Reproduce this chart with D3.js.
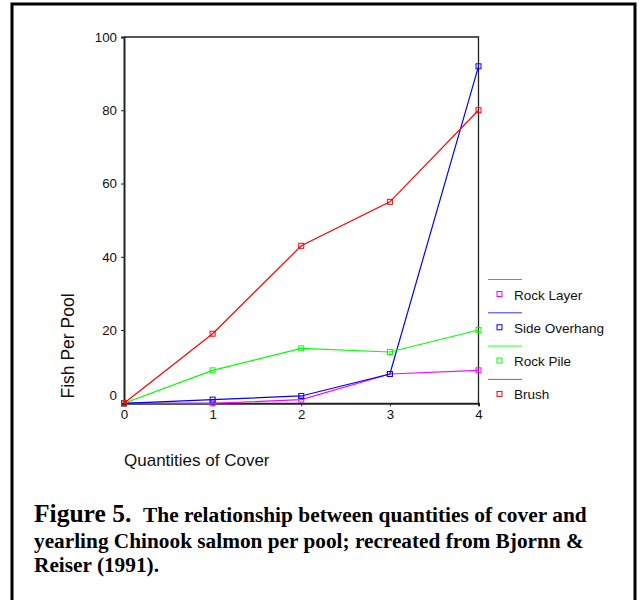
<!DOCTYPE html>
<html><head><meta charset="utf-8">
<script src="https://cdn.jsdelivr.net/npm/d3@7"></script>
<style>body{margin:0;background:#fff}svg{display:block}</style>
</head><body><svg id="c" width="640" height="600"></svg>
<script>
const categories = [0, 1, 2, 3, 4];
const rockLayer = [0, 0, 1, 8, 9];
const sideOverhang = [0, 1, 2, 8, 92];
const rockPile = [0, 9, 15, 14, 20];
const brush = [0, 19, 43, 55, 80];
const seriesNames = ["Rock Layer", "Side Overhang", "Rock Pile", "Brush"];
const seriesColors = ["#ff00ff", "#0000ff", "#00ff00", "#ff0000"];
const yTicks = [0, 20, 40, 60, 80, 100];
const xTicks = [0, 1, 2, 3, 4];

const seriesValues = [rockLayer, sideOverhang, rockPile, brush];
const svg = d3.select("#c");
const x = d3.scaleLinear().domain([0, 4]).range([124, 478.5]);
const y = d3.scaleLinear().domain([0, 100]).range([403.3, 37]);

// outer border
svg.append("rect").attr("x", 12).attr("y", 4).attr("width", 623).attr("height", 610)
  .attr("fill", "none").attr("stroke", "#000").attr("stroke-width", 3);

// frame (top/right)
svg.append("path").attr("d", `M${x(0)},${y(100)}H${x(4)}V${y(0)}`)
  .attr("fill", "none").attr("stroke", "#222").attr("stroke-width", 1.3);

// y axis
const ya = svg.append("g").attr("transform", `translate(${x(0)},0)`)
  .call(d3.axisLeft(y).tickValues(yTicks).tickSize(3).tickPadding(4).tickFormat(d3.format("d")));
ya.select(".domain").attr("stroke", "#222").attr("stroke-width", 2);
ya.selectAll(".tick line").attr("stroke", "#222");
ya.selectAll(".tick text").attr("font-family", "Liberation Sans, Arial, sans-serif")
  .attr("font-size", 13.3).attr("fill", "#111")
  .attr("dy", d => d === 0 ? "-0.25em" : "0.32em");

// x axis
const xa = svg.append("g").attr("transform", `translate(0,${y(0)})`)
  .call(d3.axisBottom(x).tickValues(xTicks).tickSize(3).tickPadding(3).tickFormat(d3.format("d")));
xa.select(".domain").attr("stroke", "#222").attr("stroke-width", 2);
xa.selectAll(".tick line").attr("stroke", "#222");
xa.selectAll(".tick text").attr("font-family", "Liberation Sans, Arial, sans-serif")
  .attr("font-size", 13.3).attr("fill", "#111");

// axis titles
svg.append("text").attr("transform", "translate(73.5,346) rotate(-90)")
  .attr("text-anchor", "middle").attr("font-family", "Liberation Sans, Arial, sans-serif")
  .attr("font-size", 17.5).attr("fill", "#111").text("Fish Per Pool");
svg.append("text").attr("x", 124).attr("y", 466)
  .attr("font-family", "Liberation Sans, Arial, sans-serif")
  .attr("font-size", 17).attr("fill", "#111").text("Quantities of Cover");

// series
const line = d3.line().x((d, i) => x(categories[i])).y(d => y(d));
seriesValues.forEach((vals, k) => {
  const g = svg.append("g");
  g.append("path").datum(vals).attr("d", line).attr("fill", "none")
    .attr("stroke", seriesColors[k]).attr("stroke-width", 1.2);
  g.selectAll("rect").data(vals).join("rect")
    .attr("x", (d, i) => x(categories[i]) - 2.5).attr("y", d => y(d) - 2.5)
    .attr("width", 5).attr("height", 5).attr("fill", "none")
    .attr("stroke", seriesColors[k]).attr("stroke-width", 1);
});

// legend
const lg = svg.append("g");
seriesNames.forEach((name, k) => {
  const y0 = 279.5 + k * 33.3;
  lg.append("line").attr("x1", 488).attr("x2", 522).attr("y1", y0).attr("y2", y0)
    .attr("stroke", seriesColors[k]).attr("stroke-width", 1).attr("opacity", 0.8);
  lg.append("rect").attr("x", 497).attr("y", y0 + 12).attr("width", 5).attr("height", 5)
    .attr("fill", "none").attr("stroke", seriesColors[k]).attr("stroke-width", 1);
  lg.append("text").attr("x", 514).attr("y", y0 + 20)
    .attr("font-family", "Liberation Sans, Arial, sans-serif").attr("font-size", 13.5)
    .attr("fill", "#111").text(name);
});

// caption
const cap = svg.append("g").attr("font-family", "Liberation Serif, Times New Roman, serif")
  .attr("font-weight", "bold").attr("fill", "#000");
cap.append("text").attr("x", 34).attr("y", 522).attr("font-size", 25.5).text("Figure 5.");
cap.append("text").attr("x", 143).attr("y", 522).attr("font-size", 21.4)
  .text("The relationship between quantities of cover and");
cap.append("text").attr("x", 34).attr("y", 548).attr("font-size", 21.3)
  .text("yearling Chinook salmon per pool; recreated from Bjornn &");
cap.append("text").attr("x", 34).attr("y", 572).attr("font-size", 21.3)
  .text("Reiser (1991).");
</script></body></html>
